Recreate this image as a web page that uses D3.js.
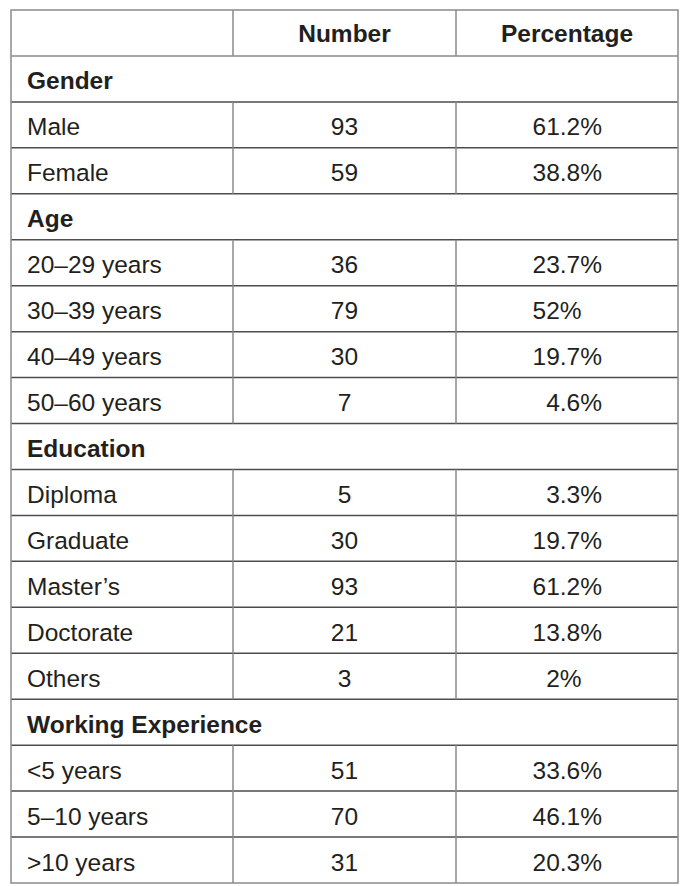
<!DOCTYPE html>
<html>
<head>
<meta charset="utf-8">
<script src="https://cdn.jsdelivr.net/npm/d3@7"></script>
<style>
  body { margin: 0; background: #fff; }
  svg text { font-family: "Liberation Sans", Arial, sans-serif; fill: #231f20; }
</style>
</head>
<body>
<div id="my_dataviz"></div>
<script>
// table data
var headers = ["", "Number", "Percentage"];
var groups = ["Gender", "Age", "Education", "Working Experience"];
var labels = [
  ["Male", "Female"],
  ["20–29 years", "30–39 years", "40–49 years", "50–60 years"],
  ["Diploma", "Graduate", "Master’s", "Doctorate", "Others"],
  ["<5 years", "5–10 years", ">10 years"]
];
var numbers = [
  [93, 59],
  [36, 79, 30, 7],
  [5, 30, 93, 21, 3],
  [51, 70, 31]
];
var percents = [
  ["61.2", "38.8"],
  ["23.7", "52", "19.7", "4.6"],
  ["3.3", "19.7", "61.2", "13.8", "2"],
  ["33.6", "46.1", "20.3"]
];

var width = 699, height = 886;
var fontSize = 24.5;

// flatten into rows
var rows = [];
groups.forEach(function(g, i) {
  rows.push({type: "group", label: g});
  labels[i].forEach(function(l, j) {
    rows.push({type: "item", label: l, num: numbers[i][j], pct: percents[i][j]});
  });
});

var svg = d3.select("#my_dataviz")
  .append("svg")
    .attr("width", width)
    .attr("height", height);

// row scale: header + every row
var y = d3.scaleBand()
  .domain(d3.range(rows.length + 1))
  .range([10, 883]);

// column edges
var colEdges = [11, 233, 456, 678];
var x = d3.scaleOrdinal().domain([0, 1, 2, 3]).range(colEdges);

var lineDark = "#4d4d4d", lineLight = "#8a8a8a";

// header text
svg.append("g").selectAll("text")
  .data(headers.slice(1))
  .enter().append("text")
    .attr("x", function(d, i) { return (x(i + 1) + x(i + 2)) / 2; })
    .attr("y", y(0) + 32)
    .attr("text-anchor", "middle")
    .style("font-size", fontSize + "px")
    .style("font-weight", "bold")
    .text(function(d) { return d; });

var rowG = svg.append("g").selectAll("g")
  .data(rows)
  .enter().append("g")
    .attr("transform", function(d, i) { return "translate(0," + y(i + 1) + ")"; });

rowG.append("text")
  .attr("x", 27)
  .attr("y", 33.5)
  .style("font-size", fontSize + "px")
  .style("font-weight", function(d) { return d.type == "group" ? "bold" : "normal"; })
  .text(function(d) { return d.label; });

var items = rowG.filter(function(d) { return d.type == "item"; });

items.append("text")
  .attr("x", (x(1) + x(2)) / 2)
  .attr("y", 33.5)
  .attr("text-anchor", "middle")
  .style("font-size", fontSize + "px")
  .text(function(d) { return d.num; });

// percentages aligned on the decimal point
var pctRight = 602;
var probe = svg.append("text").style("font-size", fontSize + "px").text(".0");
var decW = probe.node().getComputedTextLength();
probe.remove();

items.append("text")
  .attr("x", function(d) { return d.pct.indexOf(".") >= 0 ? pctRight : pctRight - decW; })
  .attr("y", 33.5)
  .attr("text-anchor", "end")
  .style("font-size", fontSize + "px")
  .text(function(d) { return d.pct + "%"; });

// horizontal lines
var hLines = d3.range(1, rows.length + 1);
svg.append("g").selectAll("line")
  .data(hLines)
  .enter().append("line")
    .attr("x1", x(0)).attr("x2", x(3))
    .attr("y1", function(d) { return y(d); })
    .attr("y2", function(d) { return y(d); })
    .attr("stroke", function(d) { return d == 1 ? lineLight : lineDark; })
    .attr("stroke-width", 1.5);

// vertical dividers: header row and item rows only
var segs = [{top: y(0), bottom: y(1)}];
rows.forEach(function(d, i) {
  if (d.type == "item") segs.push({top: y(i + 1), bottom: y(i + 1) + y.bandwidth()});
});
[1, 2].forEach(function(c) {
  svg.append("g").selectAll("line")
    .data(segs)
    .enter().append("line")
      .attr("x1", x(c)).attr("x2", x(c))
      .attr("y1", function(d) { return d.top; })
      .attr("y2", function(d) { return d.bottom; })
      .attr("stroke", lineLight)
      .attr("stroke-width", 1.5);
});

// outer border
svg.append("rect")
  .attr("x", x(0)).attr("y", y(0))
  .attr("width", x(3) - x(0))
  .attr("height", y.range()[1] - y(0))
  .attr("fill", "none")
  .attr("stroke", lineLight)
  .attr("stroke-width", 1.5);
</script>
</body>
</html>
